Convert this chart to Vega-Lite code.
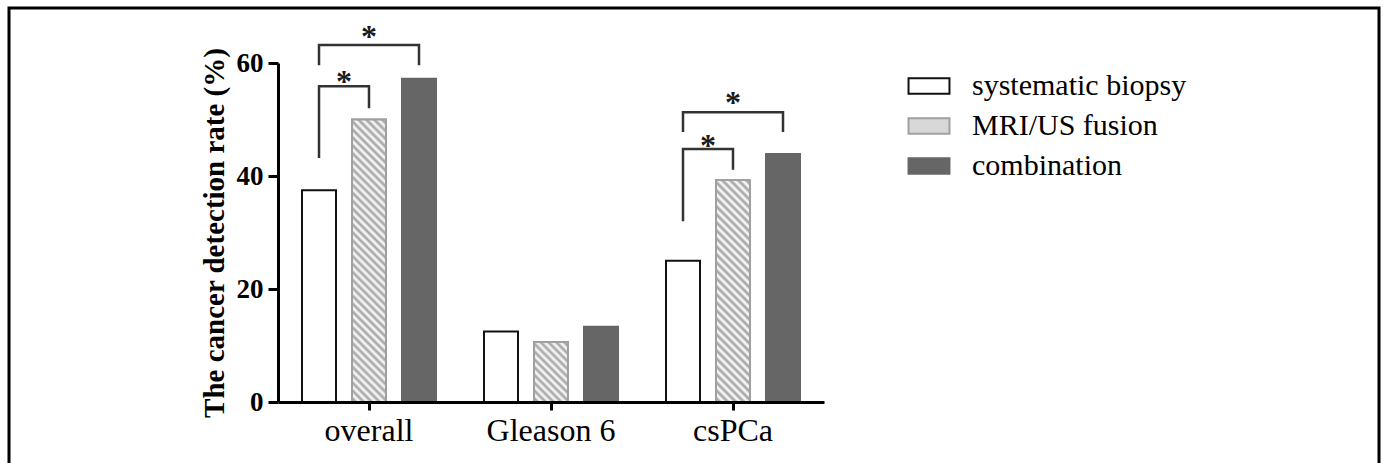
{
  "$schema": "https://vega.github.io/schema/vega-lite/v6.json",
  "width": 1370,
  "height": 457,
  "autosize": "none",
  "padding": {"left": 9, "top": 8, "right": 4, "bottom": -2},
  "background": "white",
  "config": {
    "view": {"stroke": "black", "strokeWidth": 3},
    "font": "Liberation Serif"
  },
  "datasets": {
    "bars": [
      {"group": "overall", "method": "systematic biopsy", "rate": 37.5},
      {"group": "overall", "method": "MRI/US fusion", "rate": 50.0},
      {"group": "overall", "method": "combination", "rate": 57.2},
      {"group": "Gleason 6", "method": "systematic biopsy", "rate": 12.5},
      {"group": "Gleason 6", "method": "MRI/US fusion", "rate": 10.6},
      {"group": "Gleason 6", "method": "combination", "rate": 13.3},
      {"group": "csPCa", "method": "systematic biopsy", "rate": 25.0},
      {"group": "csPCa", "method": "MRI/US fusion", "rate": 39.3},
      {"group": "csPCa", "method": "combination", "rate": 43.9}
    ],
    "brackets": [
      {"bracket": "o1", "group": "overall", "method": "systematic biopsy", "y": 43.2, "ord": 1},
      {"bracket": "o1", "group": "overall", "method": "systematic biopsy", "y": 55.9, "ord": 2},
      {"bracket": "o1", "group": "overall", "method": "MRI/US fusion", "y": 55.9, "ord": 3},
      {"bracket": "o1", "group": "overall", "method": "MRI/US fusion", "y": 52.0, "ord": 4},
      {"bracket": "o2", "group": "overall", "method": "systematic biopsy", "y": 59.6, "ord": 1},
      {"bracket": "o2", "group": "overall", "method": "systematic biopsy", "y": 63.2, "ord": 2},
      {"bracket": "o2", "group": "overall", "method": "combination", "y": 63.2, "ord": 3},
      {"bracket": "o2", "group": "overall", "method": "combination", "y": 59.6, "ord": 4},
      {"bracket": "c1", "group": "csPCa", "method": "systematic biopsy", "y": 32.0, "ord": 1},
      {"bracket": "c1", "group": "csPCa", "method": "systematic biopsy", "y": 44.8, "ord": 2},
      {"bracket": "c1", "group": "csPCa", "method": "MRI/US fusion", "y": 44.8, "ord": 3},
      {"bracket": "c1", "group": "csPCa", "method": "MRI/US fusion", "y": 41.1, "ord": 4},
      {"bracket": "c2", "group": "csPCa", "method": "systematic biopsy", "y": 47.8, "ord": 1},
      {"bracket": "c2", "group": "csPCa", "method": "systematic biopsy", "y": 51.3, "ord": 2},
      {"bracket": "c2", "group": "csPCa", "method": "combination", "y": 51.3, "ord": 3},
      {"bracket": "c2", "group": "csPCa", "method": "combination", "y": 47.8, "ord": 4}
    ],
    "starsPair": [
      {"group": "overall", "method": "systematic biopsy", "y": 54.9, "label": "*"},
      {"group": "csPCa", "method": "systematic biopsy", "y": 43.5, "label": "*"}
    ],
    "starsWide": [
      {"group": "overall", "method": "MRI/US fusion", "y": 62.8, "label": "*"},
      {"group": "csPCa", "method": "MRI/US fusion", "y": 51.2, "label": "*"}
    ]
  },
  "encoding": {
    "x": {
      "field": "group", "type": "nominal",
      "sort": ["overall", "Gleason 6", "csPCa"],
      "scale": {"range": [269, 815], "paddingInner": 0, "paddingOuter": 0},
      "axis": {
        "orient": "bottom", "offset": -63, "title": null, "labelAngle": 0,
        "tickSize": 8, "tickWidth": 3, "tickColor": "black",
        "domainWidth": 3, "domainColor": "black",
        "labelFont": "Liberation Serif", "labelFontSize": 32, "labelColor": "black",
        "labelPadding": 5, "grid": false, "zindex": 1
      }
    },
    "xOffset": {
      "field": "method", "type": "nominal",
      "sort": ["systematic biopsy", "MRI/US fusion", "combination"],
      "scale": {"paddingInner": 0.32, "paddingOuter": 0.48}
    },
    "y": {
      "field": "rate", "type": "quantitative",
      "scale": {"domain": [0, 60], "range": [394, 55], "nice": false},
      "axis": {
        "orient": "left", "offset": -269, "values": [0, 20, 40, 60],
        "tickSize": 10, "tickWidth": 3, "tickColor": "black",
        "domainWidth": 3, "domainColor": "black",
        "labelFont": "Liberation Serif", "labelFontSize": 27, "labelFontWeight": "bold",
        "labelColor": "black", "labelPadding": 5,
        "title": "The cancer detection rate (%)",
        "titleFont": "Liberation Serif", "titleFontSize": 29, "titleFontWeight": "bold",
        "titleColor": "black", "titlePadding": 7, "grid": false, "zindex": 1
      }
    }
  },
  "layer": [
    {
      "data": {"name": "bars"},
      "mark": {"type": "bar", "strokeWidth": 2},
      "encoding": {
        "fill": {
          "field": "method", "type": "nominal",
          "scale": {"domain": ["systematic biopsy", "MRI/US fusion", "combination"], "range": ["#ffffff", "#d8d8d8", "#666666"]},
          "legend": {
            "title": null, "orient": "none", "legendX": 903, "legendY": 61,
            "symbolType": "M-1.3,-0.5H1.3V0.5H-1.3Z", "symbolSize": 992, "symbolStrokeWidth": 2,
            "labelFont": "Liberation Serif", "labelFontSize": 30, "labelColor": "black",
            "labelOffset": 26, "rowPadding": 8, "padding": 0, "labelLimit": 400
          }
        },
        "stroke": {
          "field": "method", "type": "nominal",
          "scale": {"domain": ["systematic biopsy", "MRI/US fusion", "combination"], "range": ["#111111", "#a0a0a0", "#666666"]},
          "legend": {
            "title": null, "orient": "none", "legendX": 903, "legendY": 61,
            "symbolType": "M-1.3,-0.5H1.3V0.5H-1.3Z", "symbolSize": 992, "symbolStrokeWidth": 2,
            "labelFont": "Liberation Serif", "labelFontSize": 30, "labelColor": "black",
            "labelOffset": 26, "rowPadding": 8, "padding": 0, "labelLimit": 400
          }
        }
      }
    },
    {
      "data": {"name": "bars"},
      "transform": [{"filter": {"and": [{"field": "method", "equal": "MRI/US fusion"}, {"field": "group", "equal": "overall"}]}}],
      "mark": {"type": "bar", "stroke": "#a0a0a0", "strokeWidth": 2, "fill": {"gradient": "linear", "x1": 0, "y1": 1, "x2": 0.13291, "y2": -0.10435, "stops": [
        {"offset": 0, "color": "#ffffff"}, {"offset": 0.0125, "color": "#a0a0a0"}, {"offset": 0.025, "color": "#ffffff"}, {"offset": 0.0375, "color": "#a0a0a0"},
        {"offset": 0.05, "color": "#ffffff"}, {"offset": 0.0625, "color": "#a0a0a0"}, {"offset": 0.075, "color": "#ffffff"}, {"offset": 0.0875, "color": "#a0a0a0"},
        {"offset": 0.1, "color": "#ffffff"}, {"offset": 0.1125, "color": "#a0a0a0"}, {"offset": 0.125, "color": "#ffffff"}, {"offset": 0.1375, "color": "#a0a0a0"},
        {"offset": 0.15, "color": "#ffffff"}, {"offset": 0.1625, "color": "#a0a0a0"}, {"offset": 0.175, "color": "#ffffff"}, {"offset": 0.1875, "color": "#a0a0a0"},
        {"offset": 0.2, "color": "#ffffff"}, {"offset": 0.2125, "color": "#a0a0a0"}, {"offset": 0.225, "color": "#ffffff"}, {"offset": 0.2375, "color": "#a0a0a0"},
        {"offset": 0.25, "color": "#ffffff"}, {"offset": 0.2625, "color": "#a0a0a0"}, {"offset": 0.275, "color": "#ffffff"}, {"offset": 0.2875, "color": "#a0a0a0"},
        {"offset": 0.3, "color": "#ffffff"}, {"offset": 0.3125, "color": "#a0a0a0"}, {"offset": 0.325, "color": "#ffffff"}, {"offset": 0.3375, "color": "#a0a0a0"},
        {"offset": 0.35, "color": "#ffffff"}, {"offset": 0.3625, "color": "#a0a0a0"}, {"offset": 0.375, "color": "#ffffff"}, {"offset": 0.3875, "color": "#a0a0a0"},
        {"offset": 0.4, "color": "#ffffff"}, {"offset": 0.4125, "color": "#a0a0a0"}, {"offset": 0.425, "color": "#ffffff"}, {"offset": 0.4375, "color": "#a0a0a0"},
        {"offset": 0.45, "color": "#ffffff"}, {"offset": 0.4625, "color": "#a0a0a0"}, {"offset": 0.475, "color": "#ffffff"}, {"offset": 0.4875, "color": "#a0a0a0"},
        {"offset": 0.5, "color": "#ffffff"}, {"offset": 0.5125, "color": "#a0a0a0"}, {"offset": 0.525, "color": "#ffffff"}, {"offset": 0.5375, "color": "#a0a0a0"},
        {"offset": 0.55, "color": "#ffffff"}, {"offset": 0.5625, "color": "#a0a0a0"}, {"offset": 0.575, "color": "#ffffff"}, {"offset": 0.5875, "color": "#a0a0a0"},
        {"offset": 0.6, "color": "#ffffff"}, {"offset": 0.6125, "color": "#a0a0a0"}, {"offset": 0.625, "color": "#ffffff"}, {"offset": 0.6375, "color": "#a0a0a0"},
        {"offset": 0.65, "color": "#ffffff"}, {"offset": 0.6625, "color": "#a0a0a0"}, {"offset": 0.675, "color": "#ffffff"}, {"offset": 0.6875, "color": "#a0a0a0"},
        {"offset": 0.7, "color": "#ffffff"}, {"offset": 0.7125, "color": "#a0a0a0"}, {"offset": 0.725, "color": "#ffffff"}, {"offset": 0.7375, "color": "#a0a0a0"},
        {"offset": 0.75, "color": "#ffffff"}, {"offset": 0.7625, "color": "#a0a0a0"}, {"offset": 0.775, "color": "#ffffff"}, {"offset": 0.7875, "color": "#a0a0a0"},
        {"offset": 0.8, "color": "#ffffff"}, {"offset": 0.8125, "color": "#a0a0a0"}, {"offset": 0.825, "color": "#ffffff"}, {"offset": 0.8375, "color": "#a0a0a0"},
        {"offset": 0.85, "color": "#ffffff"}, {"offset": 0.8625, "color": "#a0a0a0"}, {"offset": 0.875, "color": "#ffffff"}, {"offset": 0.8875, "color": "#a0a0a0"},
        {"offset": 0.9, "color": "#ffffff"}, {"offset": 0.9125, "color": "#a0a0a0"}, {"offset": 0.925, "color": "#ffffff"}, {"offset": 0.9375, "color": "#a0a0a0"},
        {"offset": 0.95, "color": "#ffffff"}, {"offset": 0.9625, "color": "#a0a0a0"}, {"offset": 0.975, "color": "#ffffff"}, {"offset": 0.9875, "color": "#a0a0a0"},
        {"offset": 1, "color": "#ffffff"}
      ]}},
      "encoding": {}
    },
    {
      "data": {"name": "bars"},
      "transform": [{"filter": {"and": [{"field": "method", "equal": "MRI/US fusion"}, {"field": "group", "equal": "csPCa"}]}}],
      "mark": {"type": "bar", "stroke": "#a0a0a0", "strokeWidth": 2, "fill": {"gradient": "linear", "x1": 0, "y1": 1, "x2": 0.17252, "y2": -0.12671, "stops": [
        {"offset": 0, "color": "#ffffff"}, {"offset": 0.015625, "color": "#a0a0a0"}, {"offset": 0.03125, "color": "#ffffff"}, {"offset": 0.046875, "color": "#a0a0a0"},
        {"offset": 0.0625, "color": "#ffffff"}, {"offset": 0.078125, "color": "#a0a0a0"}, {"offset": 0.09375, "color": "#ffffff"}, {"offset": 0.109375, "color": "#a0a0a0"},
        {"offset": 0.125, "color": "#ffffff"}, {"offset": 0.140625, "color": "#a0a0a0"}, {"offset": 0.15625, "color": "#ffffff"}, {"offset": 0.171875, "color": "#a0a0a0"},
        {"offset": 0.1875, "color": "#ffffff"}, {"offset": 0.203125, "color": "#a0a0a0"}, {"offset": 0.21875, "color": "#ffffff"}, {"offset": 0.234375, "color": "#a0a0a0"},
        {"offset": 0.25, "color": "#ffffff"}, {"offset": 0.265625, "color": "#a0a0a0"}, {"offset": 0.28125, "color": "#ffffff"}, {"offset": 0.296875, "color": "#a0a0a0"},
        {"offset": 0.3125, "color": "#ffffff"}, {"offset": 0.328125, "color": "#a0a0a0"}, {"offset": 0.34375, "color": "#ffffff"}, {"offset": 0.359375, "color": "#a0a0a0"},
        {"offset": 0.375, "color": "#ffffff"}, {"offset": 0.390625, "color": "#a0a0a0"}, {"offset": 0.40625, "color": "#ffffff"}, {"offset": 0.421875, "color": "#a0a0a0"},
        {"offset": 0.4375, "color": "#ffffff"}, {"offset": 0.453125, "color": "#a0a0a0"}, {"offset": 0.46875, "color": "#ffffff"}, {"offset": 0.484375, "color": "#a0a0a0"},
        {"offset": 0.5, "color": "#ffffff"}, {"offset": 0.515625, "color": "#a0a0a0"}, {"offset": 0.53125, "color": "#ffffff"}, {"offset": 0.546875, "color": "#a0a0a0"},
        {"offset": 0.5625, "color": "#ffffff"}, {"offset": 0.578125, "color": "#a0a0a0"}, {"offset": 0.59375, "color": "#ffffff"}, {"offset": 0.609375, "color": "#a0a0a0"},
        {"offset": 0.625, "color": "#ffffff"}, {"offset": 0.640625, "color": "#a0a0a0"}, {"offset": 0.65625, "color": "#ffffff"}, {"offset": 0.671875, "color": "#a0a0a0"},
        {"offset": 0.6875, "color": "#ffffff"}, {"offset": 0.703125, "color": "#a0a0a0"}, {"offset": 0.71875, "color": "#ffffff"}, {"offset": 0.734375, "color": "#a0a0a0"},
        {"offset": 0.75, "color": "#ffffff"}, {"offset": 0.765625, "color": "#a0a0a0"}, {"offset": 0.78125, "color": "#ffffff"}, {"offset": 0.796875, "color": "#a0a0a0"},
        {"offset": 0.8125, "color": "#ffffff"}, {"offset": 0.828125, "color": "#a0a0a0"}, {"offset": 0.84375, "color": "#ffffff"}, {"offset": 0.859375, "color": "#a0a0a0"},
        {"offset": 0.875, "color": "#ffffff"}, {"offset": 0.890625, "color": "#a0a0a0"}, {"offset": 0.90625, "color": "#ffffff"}, {"offset": 0.921875, "color": "#a0a0a0"},
        {"offset": 0.9375, "color": "#ffffff"}, {"offset": 0.953125, "color": "#a0a0a0"}, {"offset": 0.96875, "color": "#ffffff"}, {"offset": 0.984375, "color": "#a0a0a0"},
        {"offset": 1, "color": "#ffffff"}
      ]}},
      "encoding": {}
    },
    {
      "data": {"name": "bars"},
      "transform": [{"filter": {"and": [{"field": "method", "equal": "MRI/US fusion"}, {"field": "group", "equal": "Gleason 6"}]}}],
      "mark": {"type": "bar", "stroke": "#a0a0a0", "strokeWidth": 2, "fill": {"gradient": "linear", "x1": 0, "y1": 1, "x2": 0.67307, "y2": -0.18558, "stops": [
        {"offset": 0, "color": "#ffffff"}, {"offset": 0.041667, "color": "#a0a0a0"}, {"offset": 0.083333, "color": "#ffffff"}, {"offset": 0.125, "color": "#a0a0a0"},
        {"offset": 0.166667, "color": "#ffffff"}, {"offset": 0.208333, "color": "#a0a0a0"}, {"offset": 0.25, "color": "#ffffff"}, {"offset": 0.291667, "color": "#a0a0a0"},
        {"offset": 0.333333, "color": "#ffffff"}, {"offset": 0.375, "color": "#a0a0a0"}, {"offset": 0.416667, "color": "#ffffff"}, {"offset": 0.458333, "color": "#a0a0a0"},
        {"offset": 0.5, "color": "#ffffff"}, {"offset": 0.541667, "color": "#a0a0a0"}, {"offset": 0.583333, "color": "#ffffff"}, {"offset": 0.625, "color": "#a0a0a0"},
        {"offset": 0.666667, "color": "#ffffff"}, {"offset": 0.708333, "color": "#a0a0a0"}, {"offset": 0.75, "color": "#ffffff"}, {"offset": 0.791667, "color": "#a0a0a0"},
        {"offset": 0.833333, "color": "#ffffff"}, {"offset": 0.875, "color": "#a0a0a0"}, {"offset": 0.916667, "color": "#ffffff"}, {"offset": 0.958333, "color": "#a0a0a0"},
        {"offset": 1, "color": "#ffffff"}
      ]}},
      "encoding": {}
    },
    {
      "data": {"name": "brackets"},
      "mark": {"type": "line", "color": "#333333", "strokeWidth": 2.5, "strokeCap": "butt", "strokeJoin": "miter"},
      "encoding": {
        "y": {"field": "y", "type": "quantitative"},
        "detail": {"field": "bracket"},
        "order": {"field": "ord", "type": "quantitative"}
      }
    },
    {
      "data": {"name": "starsPair"},
      "mark": {"type": "text", "fontSize": 32, "fontWeight": "bold", "color": "#1a1a1a", "dx": 25, "baseline": "alphabetic"},
      "encoding": {
        "y": {"field": "y", "type": "quantitative"},
        "text": {"field": "label"}
      }
    },
    {
      "data": {"name": "starsWide"},
      "mark": {"type": "text", "fontSize": 32, "fontWeight": "bold", "color": "#1a1a1a", "baseline": "alphabetic"},
      "encoding": {
        "y": {"field": "y", "type": "quantitative"},
        "text": {"field": "label"}
      }
    }
  ]
}
